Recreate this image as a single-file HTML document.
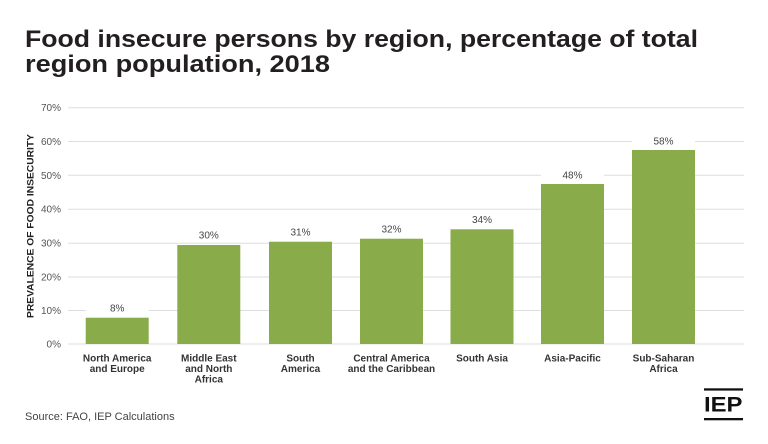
<!DOCTYPE html>
<html><head><meta charset="utf-8"><style>
html,body{margin:0;padding:0;background:#fff;}
svg{display:block;}
text{font-family:"Liberation Sans",Arial,sans-serif;}
</style></head><body>
<svg width="768" height="444" viewBox="0 0 768 444" xmlns="http://www.w3.org/2000/svg">
<rect width="768" height="444" fill="#fff"/>
<text x="25" y="47" font-size="24" font-weight="bold" fill="#231f20" textLength="673" lengthAdjust="spacingAndGlyphs">Food insecure persons by region, percentage of total</text>
<text x="25" y="72" font-size="24" font-weight="bold" fill="#231f20" textLength="305" lengthAdjust="spacingAndGlyphs">region population, 2018</text>

<g stroke="#dedede" stroke-width="1">
<line x1="68" y1="107.7" x2="744" y2="107.7"/>
<line x1="68" y1="141.5" x2="744" y2="141.5"/>
<line x1="68" y1="175.3" x2="744" y2="175.3"/>
<line x1="68" y1="209.2" x2="744" y2="209.2"/>
<line x1="68" y1="243.2" x2="744" y2="243.2"/>
<line x1="68" y1="277" x2="744" y2="277"/>
<line x1="68" y1="310.5" x2="744" y2="310.5"/>
<line x1="68" y1="344" x2="744" y2="344"/>
</g>
<g font-size="10" fill="#555" text-anchor="end">
<text x="61" y="111.2">70%</text>
<text x="61" y="145">60%</text>
<text x="61" y="178.8">50%</text>
<text x="61" y="212.7">40%</text>
<text x="61" y="246.7">30%</text>
<text x="61" y="280.5">20%</text>
<text x="61" y="314">10%</text>
<text x="61" y="347.5">0%</text>
</g>
<text transform="translate(33.5,226) rotate(-90)" text-anchor="middle" font-size="9.5" font-weight="bold" fill="#231f20" textLength="184" lengthAdjust="spacingAndGlyphs">PREVALENCE OF FOOD INSECURITY</text>

<g fill="#8aab4a">
<rect x="85.7" y="317.7" width="63" height="26.3"/>
<rect x="177.3" y="245" width="63" height="99"/>
<rect x="269" y="241.7" width="63" height="102.3"/>
<rect x="360" y="238.7" width="63" height="105.3"/>
<rect x="450.5" y="229.3" width="63" height="114.7"/>
<rect x="541" y="184" width="63" height="160"/>
<rect x="632" y="150" width="63" height="194"/>
</g>
<g fill="#fff">
<rect x="85.7" y="301.7" width="63" height="12"/>
<rect x="177.3" y="229" width="63" height="12"/>
<rect x="269" y="225.7" width="63" height="12"/>
<rect x="360" y="222.7" width="63" height="12"/>
<rect x="450.5" y="213.3" width="63" height="12"/>
<rect x="541" y="169" width="63" height="12"/>
<rect x="632" y="134.7" width="63" height="12"/>
</g>
<g font-size="10" fill="#444" text-anchor="middle">
<text x="117.2" y="311.3">8%</text>
<text x="208.8" y="238.6">30%</text>
<text x="300.5" y="235.3">31%</text>
<text x="391.5" y="232.3">32%</text>
<text x="482" y="222.9">34%</text>
<text x="572.5" y="178.6">48%</text>
<text x="663.5" y="144.3">58%</text>
</g>
<g font-size="10" font-weight="bold" fill="#333" text-anchor="middle">
<text x="117.2" y="361.3">North America</text>
<text x="117.2" y="372">and Europe</text>
<text x="208.8" y="361.3">Middle East</text>
<text x="208.8" y="372">and North</text>
<text x="208.8" y="382.6">Africa</text>
<text x="300.5" y="361.3">South</text>
<text x="300.5" y="372">America</text>
<text x="391.5" y="361.3">Central America</text>
<text x="391.5" y="372">and the Caribbean</text>
<text x="482" y="361.3">South Asia</text>
<text x="572.5" y="361.3">Asia-Pacific</text>
<text x="663.5" y="361.3">Sub-Saharan</text>
<text x="663.5" y="372">Africa</text>
</g>
<text x="25" y="420" font-size="11" fill="#444">Source: FAO, IEP Calculations</text>

<rect x="704" y="388.3" width="39" height="2.3" fill="#111"/>
<rect x="704" y="418" width="39" height="2.3" fill="#111"/>
<text x="704" y="411.7" font-size="21" font-weight="bold" fill="#111" textLength="38.5" lengthAdjust="spacingAndGlyphs">IEP</text>
</svg>
</body></html>
